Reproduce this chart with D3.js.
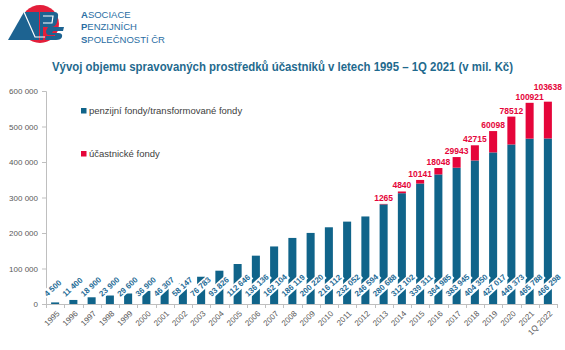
<!DOCTYPE html>
<html><head><meta charset="utf-8">
<script src="https://cdn.jsdelivr.net/npm/d3@7/dist/d3.min.js"></script>
<style>body{margin:0;background:#fff}svg{display:block}text{font-family:"Liberation Sans",Arial,sans-serif}</style>
</head><body><svg id="c" width="565" height="350"></svg>
<script>
const categories = ["1995","1996","1997","1998","1999","2000","2001","2002","2003","2004","2005","2006","2007","2008","2009","2010","2011","2012","2013","2014","2015","2016","2017","2018","2019","2020","2021","1Q 2022"];
const pensionFunds = [4500,11400,18900,23900,29600,36900,46307,58147,76783,93826,112646,136136,162104,186119,200220,216112,232052,246594,280688,312102,339311,364985,383945,404350,427017,449373,465788,466298];
const participantFunds = [0,0,0,0,0,0,0,0,0,0,0,0,0,0,0,0,0,0,1265,4840,10141,18048,29943,42715,60098,78512,100921,103638];
const seriesNames = ["penzijní fondy/transformované fondy","účastnické fondy"];
const yTicks = [0,100000,200000,300000,400000,500000,600000];
const title = "Vývoj objemu spravovaných prostředků účastníků v letech 1995 – 1Q 2021 (v mil. Kč)";

const BLUE = "#10648a", RED = "#e5053a", GRAY = "#595959", AXIS = "#bfbfbf";
const svg = d3.select("#c");

// logo
const logo = svg.append("g");
logo.append("circle").attr("cx",40).attr("cy",24).attr("r",19).attr("fill","#e31e3a");
logo.append("path").attr("d","M8,40 L24,12 L39,12 L39,40 Z").attr("fill","#1d6391");
logo.append("path").attr("d","M40,12 L54,12 Q59,12 58,17 L57,22 Q56,27 51,27 L43,27 L43,40 L40,40 Z").attr("fill","#1d6391");
logo.append("path").attr("d","M48,27 L64,27 L63,31 L53,31 L52,33 L58,33 Q63,33 62,37 Q61,40 56,40 L45,40 L46,36 L55,36 L55,35 L49,35 Q46,35 46,31 Z").attr("fill","#1d6391");
logo.append("path").attr("d","M24,12 L35,37 L45,37").attr("fill","none").attr("stroke","#fff").attr("stroke-width",1.2);
logo.append("path").attr("d","M43,16 L53,16 L52,23 L43,23").attr("fill","none").attr("stroke","#fff").attr("stroke-width",1.2);
const logoLines = [["A","SOCIACE"],["P","ENZIJNÍCH"],["S","POLEČNOSTÍ ČR"]];
logoLines.forEach((l,i)=>{
  const t = svg.append("text").attr("x",81).attr("y",17.5+i*12.7).attr("font-size",9.5).attr("fill","#2a6ea3").attr("font-family","Open Sans, sans-serif");
  t.append("tspan").attr("font-weight","bold").text(l[0]);
  t.append("tspan").text(l[1]);
});

// title
svg.append("text").attr("x",52).attr("y",71).attr("font-size",12).attr("font-weight","bold").attr("fill","#1f6a8e")
  .attr("textLength",461).attr("lengthAdjust","spacingAndGlyphs").text(title);

const x0 = 46, x1 = 557, yTop = 91, yBot = 304;
const x = d3.scaleBand().domain(categories).range([x0,x1]).paddingInner(0.56).paddingOuter(0.28);
const y = d3.scaleLinear().domain([0,600000]).range([yBot,yTop]);

// y axis
const ya = svg.append("g").attr("transform",`translate(${x0},0)`).call(d3.axisLeft(y).tickValues(yTicks).tickSize(4).tickPadding(4).tickFormat(d=>d3.format(",")(d).replace(/,/g," ")));
ya.select(".domain").attr("stroke",AXIS);
ya.selectAll(".tick line").attr("stroke",AXIS);
ya.selectAll("text").attr("font-size",8).attr("fill",GRAY).attr("font-family","Liberation Sans, sans-serif");

// bars
const stackData = categories.map((c,i)=>({c, a:pensionFunds[i], b:participantFunds[i]}));
const stack = d3.stack().keys(["a","b"])(stackData);
const colors = [BLUE, RED];
stack.forEach((s,k)=>{
  svg.append("g").selectAll("rect").data(s).join("rect")
    .attr("x",d=>x(d.data.c)).attr("width",x.bandwidth())
    .attr("y",d=>y(d[1])).attr("height",d=>Math.max(0,y(d[0])-y(d[1])))
    .attr("fill",colors[k]);
});

// x axis
const step = x.step();
svg.append("line").attr("x1",x0).attr("x2",x1).attr("y1",yBot+0.5).attr("y2",yBot+0.5).attr("stroke",AXIS);
d3.range(categories.length+1).forEach(i=>{
  const xx = Math.round(x0 + i*step)+0.5;
  svg.append("line").attr("x1",xx).attr("x2",xx).attr("y1",yBot).attr("y2",yBot+4).attr("stroke",AXIS);
});
svg.append("g").selectAll("text").data(categories).join("text")
  .attr("transform",d=>`translate(${x(d)+x.bandwidth()/2+3},${yBot+8}) rotate(-45)`)
  .attr("text-anchor","end").attr("dy","0.35em").attr("font-size",8).attr("fill",GRAY).text(d=>d);

// value labels for blue bars
const vl = svg.append("g").selectAll("g").data(stackData).join("g")
  .attr("transform",d=>`translate(${x(d.c)+x.bandwidth()/2-8},${yBot-7}) rotate(-42)`);
vl.append("rect").attr("fill","#fff");
vl.append("text").attr("font-size",8).attr("font-weight","bold").attr("fill","#1d6a95")
  .text(d=>d3.format(",")(d.a).replace(/,/g," "));
vl.each(function(){
  const g = d3.select(this); const bb = g.select("text").node().getBBox();
  g.select("rect").attr("x",bb.x-1).attr("y",bb.y).attr("width",bb.width+2).attr("height",bb.height);
});

// red labels with simple overlap avoidance
let prev = null;
stackData.forEach(d=>{
  if(!d.b) return;
  const cx = x(d.c)+x.bandwidth()/2;
  let by = y(d.a+d.b)-3;
  if(prev && prev.by - by < 10) by = prev.by - 10;
  svg.append("text").attr("x",cx).attr("y",by).attr("text-anchor","middle").attr("font-size",8.5).attr("font-weight","bold").attr("fill",RED).text(d.b);
  prev = {by};
});

// legend
[[BLUE,108],[RED,151]].forEach((l,i)=>{
  svg.append("rect").attr("x",81).attr("y",l[1]).attr("width",5.5).attr("height",5.5).attr("fill",l[0]);
  svg.append("text").attr("x",89).attr("y",l[1]+6).attr("font-size",9.5).attr("fill","#404040").text(seriesNames[i]);
});
</script></body></html>
